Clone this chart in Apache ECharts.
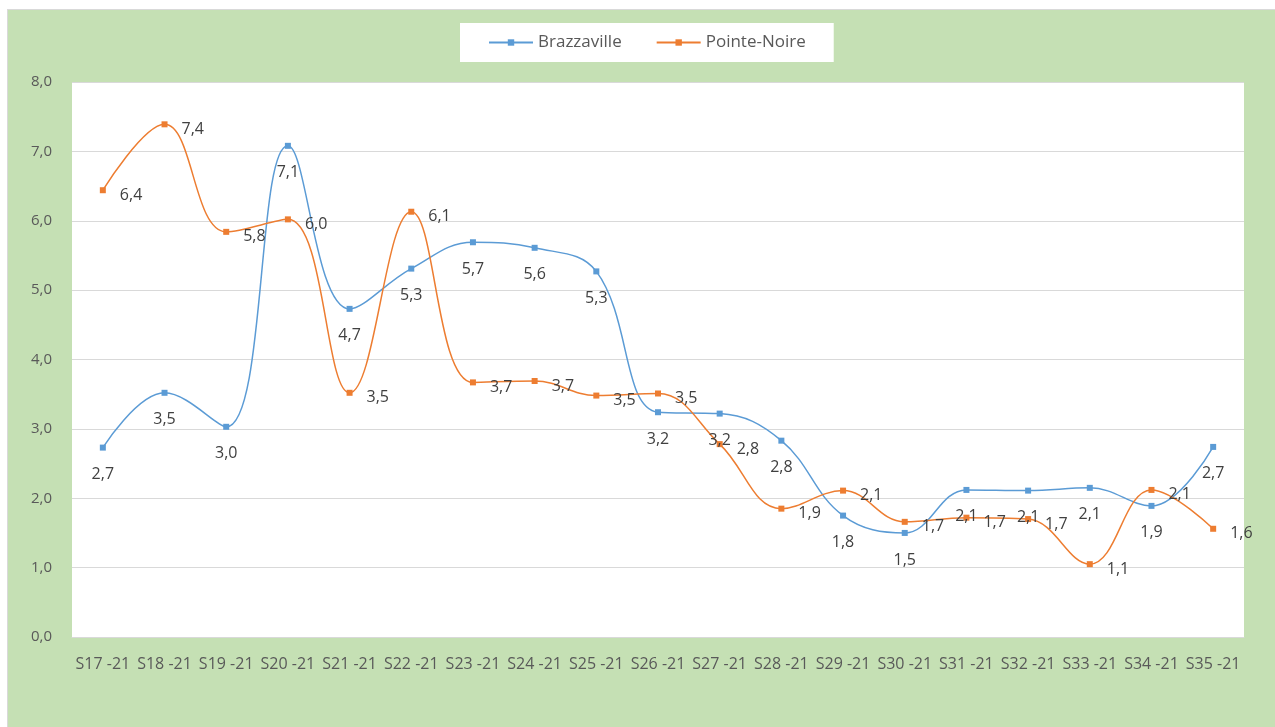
<!DOCTYPE html>
<html>
<head>
<meta charset="utf-8">
<script src="https://cdn.jsdelivr.net/npm/echarts@6/dist/echarts.min.js"></script>
<style>
  html, body { margin: 0; padding: 0; background: #fff; }
  #frame {
    position: absolute; left: 7px; top: 9px; right: 0; bottom: 0;
    background: #C5E0B4;
    border-left: 1px solid #d9d9d9; border-top: 1px solid #d9d9d9;
  }
  #chart { position: absolute; left: -8px; top: -10px; width: 1275px; height: 727px; }
</style>
</head>
<body>
<div id="frame"><div id="chart"></div></div>
<script>
// semaines
const weeks = ['S17 -21', 'S18 -21', 'S19 -21', 'S20 -21', 'S21 -21', 'S22 -21', 'S23 -21',
  'S24 -21', 'S25 -21', 'S26 -21', 'S27 -21', 'S28 -21', 'S29 -21', 'S30 -21', 'S31 -21',
  'S32 -21', 'S33 -21', 'S34 -21', 'S35 -21']

const brazzaville = [2.73, 3.52, 3.03, 7.08, 4.73, 5.31, 5.69, 5.61, 5.27, 3.24, 3.22, 2.83,
  1.75, 1.50, 2.12, 2.11, 2.15, 1.89, 2.74]

const pointeNoire = [6.44, 7.39, 5.84, 6.02, 3.52, 6.13, 3.67, 3.69, 3.48, 3.51, 2.78, 1.85,
  2.11, 1.66, 1.72, 1.70, 1.05, 2.12, 1.56]

const yTicks = [0, 1, 2, 3, 4, 5, 6, 7, 8]

const fmt = v => v.toFixed(1).replace('.', ',')
const font = "'Open Sans', 'Noto Sans', sans-serif"

const chart = echarts.init(document.getElementById('chart'))

chart.setOption({
  animation: false,
  textStyle: { fontFamily: font },
  color: ['#5B9BD5', '#ED7D31'],
  legend: {
    left: 460,
    top: 23,
    backgroundColor: '#fff',
    padding: [11, 28, 11, 28],
    itemGap: 34,
    itemWidth: 44,
    itemHeight: 8,
    textStyle: { color: '#595959', fontSize: 17, fontFamily: font }
  },
  grid: {
    left: 72,
    right: 31,
    top: 82,
    bottom: 90,
    show: true,
    backgroundColor: '#fff',
    borderWidth: 0
  },
  xAxis: {
    type: 'category',
    data: weeks,
    boundaryGap: true,
    axisLine: { lineStyle: { color: '#d9d9d9' } },
    axisTick: { show: false },
    axisLabel: { color: '#595959', fontSize: 16, margin: 19, interval: 0 }
  },
  yAxis: {
    type: 'value',
    min: yTicks[0],
    max: yTicks[yTicks.length - 1],
    interval: 1,
    axisLine: { show: false },
    axisTick: { show: false },
    splitLine: { lineStyle: { color: '#d9d9d9', width: 1 } },
    axisLabel: { color: '#595959', fontSize: 15, margin: 20, formatter: fmt }
  },
  series: [
    {
      name: 'Brazzaville',
      type: 'line',
      data: brazzaville,
      smooth: 0.4,
      symbol: 'rect',
      symbolSize: 6,
      lineStyle: { width: 1.5 },
      label: {
        show: true,
        position: 'bottom',
        distance: 16,
        color: '#404040',
        fontSize: 16,
        formatter: p => fmt(p.value)
      }
    },
    {
      name: 'Pointe-Noire',
      type: 'line',
      data: pointeNoire,
      smooth: 0.4,
      symbol: 'rect',
      symbolSize: 6,
      lineStyle: { width: 1.5 },
      label: {
        show: true,
        position: 'right',
        distance: 14,
        offset: [0, 5],
        color: '#404040',
        fontSize: 16,
        formatter: p => fmt(p.value)
      }
    }
  ]
})
</script>
</body>
</html>
